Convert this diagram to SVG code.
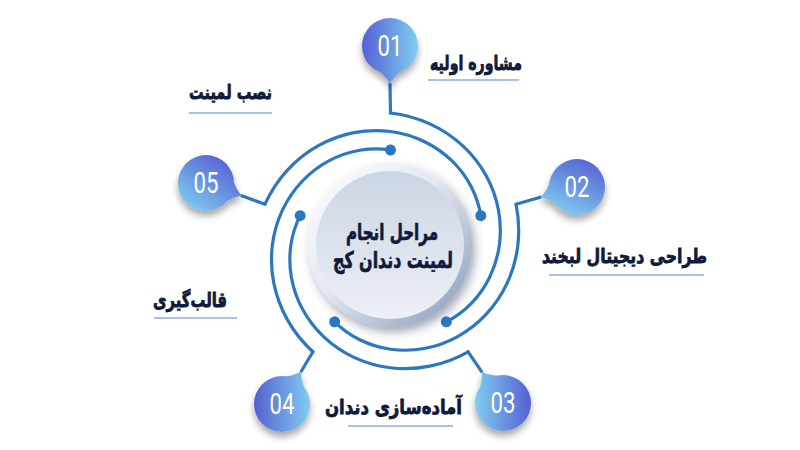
<svg xmlns="http://www.w3.org/2000/svg" xmlns:xlink="http://www.w3.org/1999/xlink" width="800" height="450" viewBox="0 0 800 450">
<defs>
<style>
.ln{fill:none;stroke:#2b78c1;stroke-width:3.2;stroke-linecap:round;stroke-linejoin:round}
.dot{fill:#2b78c1}
.lbl{font-family:"DejaVu Sans",sans-serif;font-weight:bold;font-size:20px;fill:#0f1a3c;stroke:#0f1a3c;stroke-width:0.8;text-anchor:middle}
.ul{stroke:#8db0da;stroke-width:1.3}
.num{font-family:Roboto,"Liberation Sans",sans-serif;font-size:29px;fill:#ffffff;text-anchor:middle}
.ctr{font-family:"DejaVu Sans",sans-serif;font-weight:bold;font-size:23px;fill:#0f1a3c;stroke:#0f1a3c;stroke-width:0.7;text-anchor:middle}
</style>
<filter id="sh" x="-40%" y="-40%" width="180%" height="190%"><feDropShadow dx="0" dy="5" stdDeviation="3.5" flood-color="#000" flood-opacity="0.35"/></filter>
<filter id="dsh" x="-20%" y="-20%" width="145%" height="150%"><feDropShadow dx="3" dy="5" stdDeviation="5" flood-color="#34435e" flood-opacity="0.45"/></filter>
<linearGradient id="g1" gradientUnits="userSpaceOnUse" x1="362" y1="46" x2="418" y2="46"><stop offset="0" stop-color="#5560d2"/><stop offset="1" stop-color="#80ccf0"/></linearGradient>
<linearGradient id="g2" gradientUnits="userSpaceOnUse" x1="590" y1="158" x2="565" y2="216"><stop offset="0" stop-color="#5560d2"/><stop offset="1" stop-color="#80ccf0"/></linearGradient>
<linearGradient id="g3" gradientUnits="userSpaceOnUse" x1="531" y1="403" x2="475" y2="403"><stop offset="0" stop-color="#5560d2"/><stop offset="1" stop-color="#80ccf0"/></linearGradient>
<linearGradient id="g4" gradientUnits="userSpaceOnUse" x1="254" y1="404" x2="310" y2="404"><stop offset="0" stop-color="#5560d2"/><stop offset="1" stop-color="#80ccf0"/></linearGradient>
<linearGradient id="g5" gradientUnits="userSpaceOnUse" x1="225" y1="157" x2="188" y2="210"><stop offset="0" stop-color="#5560d2"/><stop offset="1" stop-color="#80ccf0"/></linearGradient>
<linearGradient id="rim" x1="0" y1="0" x2="1" y2="1"><stop offset="0" stop-color="#ffffff"/><stop offset="0.45" stop-color="#e3e8ef"/><stop offset="1" stop-color="#8197b8"/></linearGradient>
<linearGradient id="face" x1="0" y1="0" x2="0" y2="1"><stop offset="0" stop-color="#cbd5e3"/><stop offset="1" stop-color="#edf0f5"/></linearGradient>
<linearGradient id="cl" x1="0" y1="0" x2="1" y2="0"><stop offset="0" stop-color="#5866d4"/><stop offset="1" stop-color="#7ccaf0"/></linearGradient>
<g id="spiral"><path class="ln" d="M0 -132 A129.7 129.7 0 0 1 39.36 -121.15 A125.1 125.1 0 0 1 72.15 -99.31 A120.4 120.4 0 0 1 95.56 -69.43 A115.8 115.8 0 0 1 107.95 -35.07 A111.2 111.2 0 0 1 108.88 0 A106.6 106.6 0 0 1 99.15 32.21 A101.9 101.9 0 0 1 80.6 58.56 A97.3 97.3 0 0 1 55.84 76.86"/><circle class="dot" cx="55.84" cy="76.86" r="5.5"/></g>
</defs>
<rect width="800" height="450" fill="#ffffff"/>
<g id="connectors">
<g id="c01"><path class="ln" d="M390 84 L390.5 113"/><use href="#spiral" xlink:href="#spiral" transform="translate(390.5 245)"/></g>
<g id="c02"><path class="ln" d="M540.4 197.2 L516 204.2"/><use href="#spiral" xlink:href="#spiral" transform="translate(390.5 245) rotate(72)"/></g>
<g id="c03"><path class="ln" d="M481.6 371.6 L468.1 351.8"/><use href="#spiral" xlink:href="#spiral" transform="translate(390.5 245) rotate(144)"/></g>
<g id="c04"><path class="ln" d="M301.3 371.3 L312.9 351.8"/><use href="#spiral" xlink:href="#spiral" transform="translate(390.5 245) rotate(216)"/></g>
<g id="c05"><path class="ln" d="M241.8 195.8 L265 204.2"/><use href="#spiral" xlink:href="#spiral" transform="translate(390.5 245) rotate(288)"/></g>
</g>
<g id="center">
<g filter="url(#dsh)"><circle cx="390" cy="245" r="82" fill="url(#rim)"/><circle cx="390" cy="245" r="74" fill="url(#face)"/></g>
<text class="ctr" x="392" y="240" textLength="92" lengthAdjust="spacingAndGlyphs">مراحل انجام</text>
<text class="ctr" x="393" y="268" textLength="120" lengthAdjust="spacingAndGlyphs">لمینت دندان کج</text>
<line x1="346" y1="288" x2="437" y2="288" stroke="url(#cl)" stroke-width="2.5"/>
</g>
<g id="node-01">
<g filter="url(#sh)"><circle cx="390" cy="46" r="28" fill="url(#g1)"/><path d="M405 68 Q394 76 390 84 Q386 76 375 68 Z" fill="url(#g1)"/></g>
<text class="num" x="390" y="56" textLength="25" lengthAdjust="spacingAndGlyphs">01</text>
<text class="lbl" x="476" y="70" textLength="92" lengthAdjust="spacingAndGlyphs">مشاوره اولیه</text>
<line class="ul" x1="428" y1="80" x2="519" y2="80"/>
</g>
<g id="node-02">
<g filter="url(#sh)"><circle cx="577" cy="187" r="28" fill="url(#g2)"/><path d="M551.8 178.5 Q547 191.2 540.4 197.2 Q549.2 199 559.8 207.3 Z" fill="url(#g2)"/></g>
<text class="num" x="577" y="197" textLength="25" lengthAdjust="spacingAndGlyphs">02</text>
<text class="lbl" x="624.5" y="263" textLength="165" lengthAdjust="spacingAndGlyphs">طراحی دیجیتال لبخند</text>
<line class="ul" x1="549" y1="275" x2="704" y2="275"/>
</g>
<g id="node-03">
<g filter="url(#sh)"><circle cx="503" cy="403" r="28" fill="url(#g3)"/><path d="M503 376.4 Q489.4 375.9 481.6 371.6 Q482.8 380.5 478.2 393.2 Z" fill="url(#g3)"/></g>
<text class="num" x="503" y="413" textLength="25" lengthAdjust="spacingAndGlyphs">03</text>
<text class="lbl" x="393.5" y="414" textLength="137" lengthAdjust="spacingAndGlyphs">آماده‌سازی دندان</text>
<line class="ul" x1="348" y1="426" x2="453" y2="426"/>
</g>
<g id="node-04">
<g filter="url(#sh)"><circle cx="282" cy="404" r="28" fill="url(#g4)"/><path d="M306.1 392.7 Q300.7 380.2 301.3 371.3 Q293.9 376.2 280.3 377.5 Z" fill="url(#g4)"/></g>
<text class="num" x="282" y="414" textLength="25" lengthAdjust="spacingAndGlyphs">04</text>
<text class="lbl" x="190" y="307" textLength="74" lengthAdjust="spacingAndGlyphs">قالب‌گیری</text>
<line class="ul" x1="154" y1="318" x2="237" y2="318"/>
</g>
<g id="node-05">
<g filter="url(#sh)"><circle cx="206" cy="183" r="28" fill="url(#g5)"/><path d="M221.6 204.5 Q232.8 196.9 241.8 195.8 Q235.6 189.3 231.8 176.3 Z" fill="url(#g5)"/></g>
<text class="num" x="206" y="193" textLength="25" lengthAdjust="spacingAndGlyphs">05</text>
<text class="lbl" x="230.5" y="99" textLength="83" lengthAdjust="spacingAndGlyphs">نصب لمینت</text>
<line class="ul" x1="189" y1="113" x2="272" y2="113"/>
</g>
</svg>
